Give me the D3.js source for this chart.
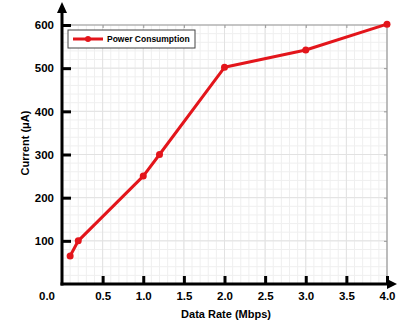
<!DOCTYPE html>
<html>
<head>
<meta charset="utf-8">
<script src="https://cdn.jsdelivr.net/npm/d3@7"></script>
<style>
  body { margin: 0; background: #fff; }
  svg text { font-family: "Liberation Sans", Arial, sans-serif; font-weight: bold; }
</style>
</head>
<body>
<div id="chart"></div>
<script>
const dataRate = [0.1, 0.2, 1.0, 1.2, 2.0, 3.0, 4.0];
const current = [65, 100, 250, 300, 502, 542, 602];
const xTicks = [0.5, 1.0, 1.5, 2.0, 2.5, 3.0, 3.5, 4.0];
const yTicks = [100, 200, 300, 400, 500, 600];
const seriesName = "Power Consumption";

const width = 398;
const height = 326;
const margin = { top: 25, right: 11, bottom: 42, left: 62 };
const red = "#e3151b";

const svg = d3.select("#chart")
    .append("svg")
    .attr("width", width)
    .attr("height", height);

const xScale = d3.scaleLinear()
    .domain([0, 4])
    .range([margin.left, width - margin.right]);
const yScale = d3.scaleLinear()
    .domain([0, 600])
    .range([height - margin.bottom, margin.top]);

const x0 = xScale(0), x1 = xScale(4);
const y0 = yScale(0), y1 = yScale(600);

// grid, minor then major
const grid = svg.append("g");
grid.selectAll(".vminor")
    .data(d3.range(1, 40).map((i) => i / 10))
    .join("line")
    .attr("x1", (d) => xScale(d)).attr("x2", (d) => xScale(d))
    .attr("y1", y1).attr("y2", y0)
    .attr("stroke", "#efefef");
grid.selectAll(".hminor")
    .data(d3.range(1, 30).map((i) => i * 20))
    .join("line")
    .attr("y1", (d) => yScale(d)).attr("y2", (d) => yScale(d))
    .attr("x1", x0).attr("x2", x1)
    .attr("stroke", "#efefef");
grid.selectAll(".vmajor")
    .data(xTicks)
    .join("line")
    .attr("x1", (d) => xScale(d)).attr("x2", (d) => xScale(d))
    .attr("y1", y1).attr("y2", y0)
    .attr("stroke", "#e2e2e2");
grid.selectAll(".hmajor")
    .data(yTicks)
    .join("line")
    .attr("y1", (d) => yScale(d)).attr("y2", (d) => yScale(d))
    .attr("x1", x0).attr("x2", x1)
    .attr("stroke", "#e2e2e2");

// top and right box lines with small gray ticks
svg.append("line")
    .attr("x1", x0).attr("x2", x1).attr("y1", y1).attr("y2", y1)
    .attr("stroke", "#999").attr("stroke-width", 1.2);
svg.append("line")
    .attr("x1", x1).attr("x2", x1).attr("y1", y1).attr("y2", y0)
    .attr("stroke", "#999").attr("stroke-width", 1.2);
svg.append("g")
    .attr("transform", `translate(0,${y1})`)
    .call(d3.axisTop(xScale).tickValues(xTicks.slice(0, -1)).tickSize(-3).tickFormat(""))
    .call((g) => g.select(".domain").remove())
    .call((g) => g.selectAll("line").attr("stroke", "#999"));
svg.append("g")
    .attr("transform", `translate(${x1},0)`)
    .call(d3.axisRight(yScale).tickValues(yTicks.slice(0, -1)).tickSize(-3).tickFormat(""))
    .call((g) => g.select(".domain").remove())
    .call((g) => g.selectAll("line").attr("stroke", "#999"));

// x axis
const xAxis = svg.append("g")
    .attr("transform", `translate(0,${y0})`)
    .call(d3.axisBottom(xScale).tickValues(xTicks).tickSize(-8).tickPadding(8)
        .tickFormat(d3.format(".1f")));
xAxis.select(".domain").remove();
xAxis.selectAll(".tick line").attr("stroke", "#000").attr("stroke-width", 3);
xAxis.selectAll(".tick text").attr("font-size", 11.5).attr("fill", "#000");
svg.append("text")
    .attr("x", x0 - 15).attr("y", y0 + 8)
    .attr("dy", "0.71em")
    .attr("text-anchor", "middle")
    .attr("font-size", 11.5)
    .text("0.0");

// y axis
const yAxis = svg.append("g")
    .attr("transform", `translate(${x0},0)`)
    .call(d3.axisLeft(yScale).tickValues(yTicks).tickSize(-9).tickPadding(8));
yAxis.select(".domain").remove();
yAxis.selectAll(".tick line").attr("stroke", "#000").attr("stroke-width", 3);
yAxis.selectAll(".tick text").attr("font-size", 11.5).attr("fill", "#000");

// axis lines with arrows
svg.append("line")
    .attr("x1", x0).attr("x2", x0).attr("y1", y0 + 1.5).attr("y2", 10)
    .attr("stroke", "#000").attr("stroke-width", 3);
svg.append("path")
    .attr("d", `M${x0},2 L${x0 - 5},13 L${x0 + 5},13 Z`)
    .attr("fill", "#000");
svg.append("line")
    .attr("x1", x0 - 1.5).attr("x2", width - 8).attr("y1", y0).attr("y2", y0)
    .attr("stroke", "#000").attr("stroke-width", 3);
svg.append("path")
    .attr("d", `M${width - 1},${y0} L${width - 11},${y0 - 5} L${width - 11},${y0 + 5} Z`)
    .attr("fill", "#000");

// series
const points = dataRate.map((d, i) => ({ x: d, y: current[i] }));
const line = d3.line().x((d) => xScale(d.x)).y((d) => yScale(d.y));
svg.append("path")
    .datum(points)
    .attr("d", line)
    .attr("fill", "none")
    .attr("stroke", red)
    .attr("stroke-width", 3)
    .attr("stroke-linejoin", "round");
svg.selectAll(".pt")
    .data(points)
    .join("circle")
    .attr("cx", (d) => xScale(d.x))
    .attr("cy", (d) => yScale(d.y))
    .attr("r", 3.5)
    .attr("fill", red);

// legend
const legend = svg.append("g").attr("transform", "translate(68,30)");
legend.append("rect")
    .attr("width", 127).attr("height", 18)
    .attr("fill", "#fff")
    .attr("stroke", "#444").attr("stroke-width", 1);
legend.append("line")
    .attr("x1", 5).attr("x2", 35).attr("y1", 9).attr("y2", 9)
    .attr("stroke", red).attr("stroke-width", 3);
legend.append("circle")
    .attr("cx", 20).attr("cy", 9).attr("r", 3)
    .attr("fill", red);
legend.append("text")
    .attr("x", 39).attr("y", 9)
    .attr("dominant-baseline", "central")
    .attr("font-size", 8.5)
    .text(seriesName);

// axis titles
svg.append("text")
    .attr("x", 226).attr("y", 318)
    .attr("text-anchor", "middle")
    .attr("font-size", 11)
    .text("Data Rate (Mbps)");
svg.append("text")
    .attr("transform", `translate(29,143) rotate(-90)`)
    .attr("text-anchor", "middle")
    .attr("font-size", 11)
    .text("Current (μA)");
</script>
</body>
</html>
